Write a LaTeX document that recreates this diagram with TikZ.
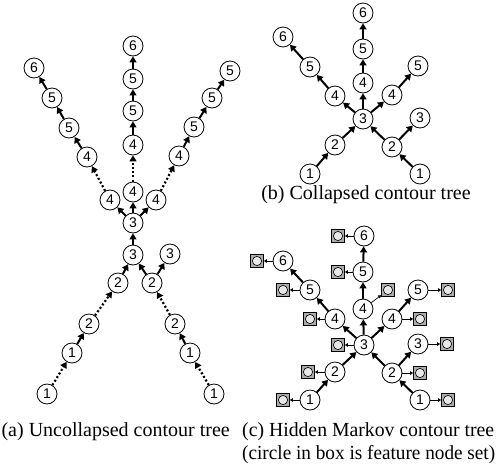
\documentclass[tikz,border=0pt]{standalone}
\usepackage{fontspec}
\usepackage{graphicx}
\setmainfont{Liberation Serif}
\newfontfamily\numfont{Liberation Sans}
\usetikzlibrary{arrows.meta}
\tikzset{
  cn/.style={circle, draw, line width=0.8pt, minimum size=20pt, inner sep=0pt, font=\numfont\fontsize{14}{14}\selectfont},
  fb/.style={rectangle, draw, line width=0.7pt, fill=gray!65, minimum size=13pt, inner sep=0pt,
    path picture={\draw[line width=0.6pt, fill=gray!18] (path picture bounding box.center) circle (4.6pt);}},
  se/.style={line width=2pt, -{Triangle[length=6pt,width=7pt]}},
  de/.style={line width=2.2pt, dash pattern=on 2pt off 2.2pt, -{Triangle[length=6pt,width=7pt]}},
  te/.style={line width=0.7pt, -{Triangle[length=3pt,width=3.5pt]}},
  captxt/.style={font=\fontsize{20}{23}\selectfont, inner sep=0pt}
}
\begin{document}
\begin{tikzpicture}[x=1pt,y=-1pt]
\useasboundingbox (0,0) rectangle (496,467);
% ---------- (a) ----------
\node[cn] (a1L) at (47,394) {1};
\node[cn] (a1Lb) at (72,353) {1};
\node[cn] (a2L) at (89,324) {2};
\node[cn] (a2Lb) at (118,283) {2};
\node[cn] (a1R) at (214,394) {1};
\node[cn] (a1Rb) at (190,353) {1};
\node[cn] (a2R) at (175,324) {2};
\node[cn] (a2Rb) at (152,283) {2};
\node[cn] (a3R) at (170,254) {3};
\node[cn] (a3b) at (133,255) {3};
\node[cn] (a3) at (133,223) {3};
\node[cn] (a4L) at (110,200) {4};
\node[cn] (a4M) at (133,192) {4};
\node[cn] (a4R) at (156,200) {4};
\node[cn] (a4Lb) at (87,157) {4};
\node[cn] (a5L) at (69,128) {5};
\node[cn] (a5Lb) at (52,98) {5};
\node[cn] (a6L) at (34,68) {6};
\node[cn] (a4Mb) at (133,145) {4};
\node[cn] (a5M) at (133,111) {5};
\node[cn] (a5Mb) at (133,79) {5};
\node[cn] (a6M) at (133,46) {6};
\node[cn] (a4Rb) at (179,156) {4};
\node[cn] (a5R) at (194,127) {5};
\node[cn] (a5Rb) at (212,98) {5};
\node[cn] (a5Rc) at (230,71) {5};
\draw[de] (a1L) -- (a1Lb);
\draw[se] (a1Lb) -- (a2L);
\draw[de] (a2L) -- (a2Lb);
\draw[se] (a2Lb) -- (a3b);
\draw[de] (a1R) -- (a1Rb);
\draw[se] (a1Rb) -- (a2R);
\draw[de] (a2R) -- (a2Rb);
\draw[se] (a2Rb) -- (a3b);
\draw[se] (a2Rb) -- (a3R);
\draw[se] (a3b) -- (a3);
\draw[se] (a3) -- (a4L);
\draw[se] (a3) -- (a4M);
\draw[se] (a3) -- (a4R);
\draw[de] (a4L) -- (a4Lb);
\draw[se] (a4Lb) -- (a5L);
\draw[se] (a5L) -- (a5Lb);
\draw[se] (a5Lb) -- (a6L);
\draw[de] (a4M) -- (a4Mb);
\draw[se] (a4Mb) -- (a5M);
\draw[se] (a5M) -- (a5Mb);
\draw[se] (a5Mb) -- (a6M);
\draw[de] (a4R) -- (a4Rb);
\draw[se] (a4Rb) -- (a5R);
\draw[se] (a5R) -- (a5Rb);
\draw[se] (a5Rb) -- (a5Rc);
\node[captxt, anchor=east] (capa) at (230,432) {(a) Uncollapsed contour tree};
% ---------- (b) ----------
\node[cn] (b3) at (363,119) {3};
\node[cn] (b4M) at (363,83) {4};
\node[cn] (b5M) at (363,49) {5};
\node[cn] (b6M) at (363,13) {6};
\node[cn] (b4L) at (335,96) {4};
\node[cn] (b5L) at (310,67) {5};
\node[cn] (b6L) at (283,37) {6};
\node[cn] (b4R) at (392,95) {4};
\node[cn] (b5R) at (418,66) {5};
\node[cn] (b2L) at (335,145) {2};
\node[cn] (b1L) at (310,174) {1};
\node[cn] (b2R) at (392,147) {2};
\node[cn] (b3R) at (420,118) {3};
\node[cn] (b1R) at (420,174) {1};
\draw[se] (b1L) -- (b2L);
\draw[se] (b2L) -- (b3);
\draw[se] (b1R) -- (b2R);
\draw[se] (b2R) -- (b3);
\draw[se] (b2R) -- (b3R);
\draw[se] (b3) -- (b4M);
\draw[se] (b4M) -- (b5M);
\draw[se] (b5M) -- (b6M);
\draw[se] (b3) -- (b4L);
\draw[se] (b4L) -- (b5L);
\draw[se] (b5L) -- (b6L);
\draw[se] (b3) -- (b4R);
\draw[se] (b4R) -- (b5R);
\node[captxt] (capb) at (366,195) {(b) Collapsed contour tree};
% ---------- (c) ----------
\node[cn] (c3) at (364,345) {3};
\node[cn] (c4M) at (363,309) {4};
\node[cn] (c5M) at (363,272) {5};
\node[cn] (c6M) at (364,236) {6};
\node[cn] (c4L) at (335,319) {4};
\node[cn] (c5L) at (310,290) {5};
\node[cn] (c6L) at (283,261) {6};
\node[cn] (c4R) at (392,319) {4};
\node[cn] (c5R) at (418,290) {5};
\node[cn] (c2L) at (335,372) {2};
\node[cn] (c1L) at (310,400) {1};
\node[cn] (c2R) at (392,373) {2};
\node[cn] (c3R) at (418,344) {3};
\node[cn] (c1R) at (420,400) {1};
\node[fb] (f3) at (338,345) {};
\node[fb] (f4M) at (388,290) {};
\node[fb] (f5M) at (338,272) {};
\node[fb] (f6M) at (338,236) {};
\node[fb] (f4L) at (310,319) {};
\node[fb] (f5L) at (283,290) {};
\node[fb] (f6L) at (257,261) {};
\node[fb] (f4R) at (420,319) {};
\node[fb] (f5R) at (448,290) {};
\node[fb] (f2L) at (308,372) {};
\node[fb] (f1L) at (283,400) {};
\node[fb] (f2R) at (420,373) {};
\node[fb] (f3R) at (447,344) {};
\node[fb] (f1R) at (448,400) {};
\draw[se] (c1L) -- (c2L);
\draw[se] (c2L) -- (c3);
\draw[se] (c1R) -- (c2R);
\draw[se] (c2R) -- (c3);
\draw[se] (c2R) -- (c3R);
\draw[se] (c3) -- (c4M);
\draw[se] (c4M) -- (c5M);
\draw[se] (c5M) -- (c6M);
\draw[se] (c3) -- (c4L);
\draw[se] (c4L) -- (c5L);
\draw[se] (c5L) -- (c6L);
\draw[se] (c3) -- (c4R);
\draw[se] (c4R) -- (c5R);
\foreach \n in {3,4M,5M,6M,4L,5L,6L,4R,5R,2L,1L,2R,3R,1R}
  \draw[te] (c\n) -- (f\n);
\node[captxt, anchor=west] (capc1) at (242,432) {\resizebox{252pt}{\height}{(c) Hidden Markov contour tree}};
\node[captxt, anchor=west] (capc2) at (242,455) {\resizebox{253pt}{\height}{(circle in box is feature node set)}};
\end{tikzpicture}
\end{document}
